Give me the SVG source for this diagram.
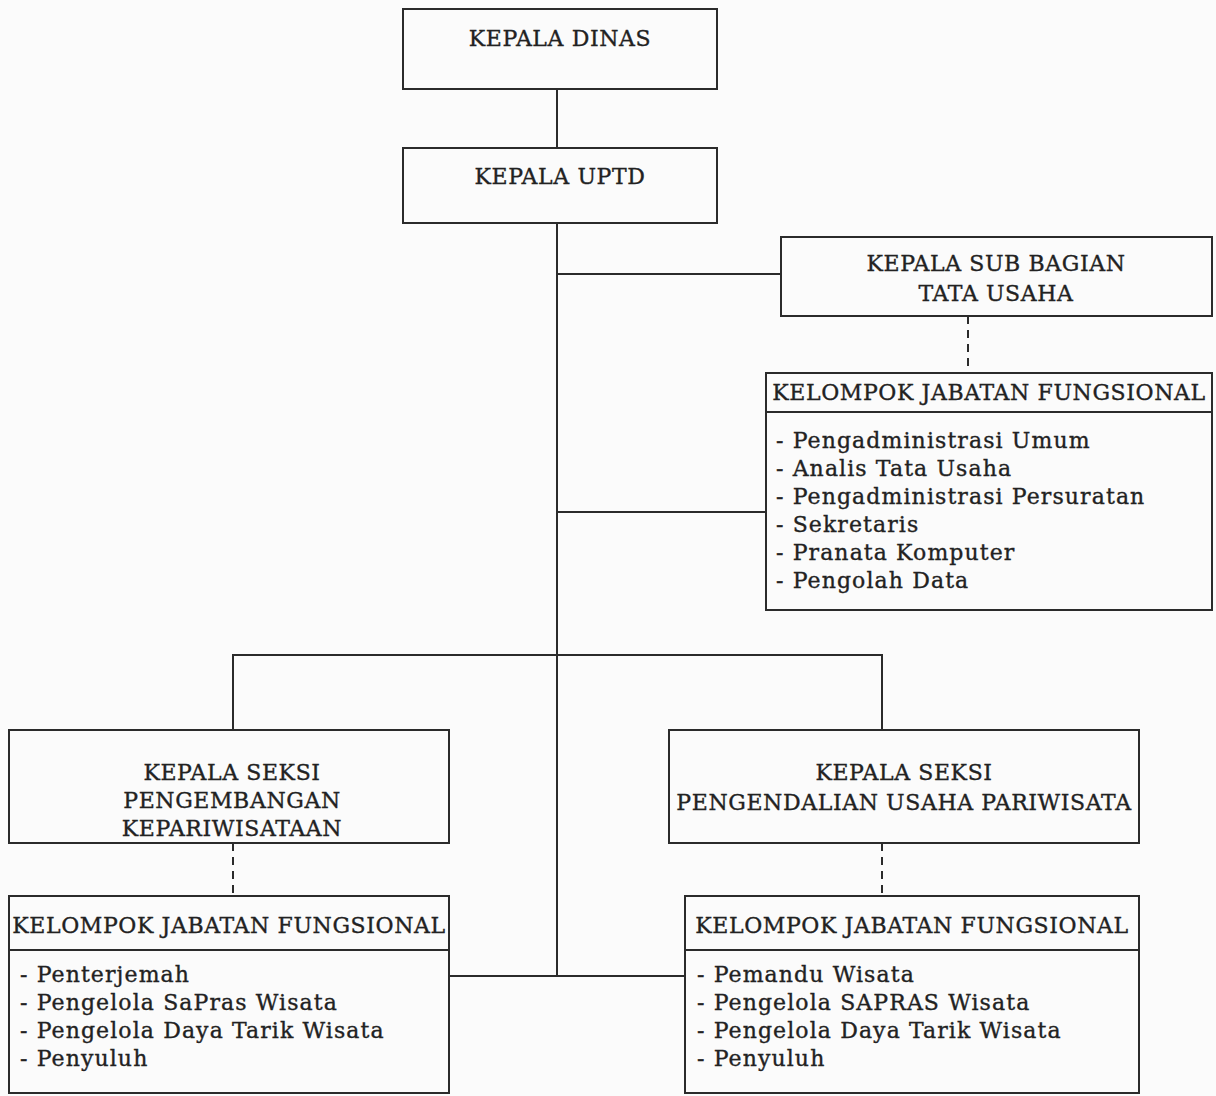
<svg xmlns="http://www.w3.org/2000/svg" width="1216" height="1096" viewBox="0 0 1216 1096">
<style>
.box{fill:none;stroke:#2b2b2b;stroke-width:2}
.ln{fill:none;stroke:#2b2b2b;stroke-width:2}
.dash{fill:none;stroke:#2b2b2b;stroke-width:2;stroke-dasharray:8,6}
text{font-family:"DejaVu Serif","Liberation Serif",serif;font-size:22px;fill:#222;stroke:#222;stroke-width:0.35;letter-spacing:0.6px}
.c{text-anchor:middle}
.it{letter-spacing:1.1px}
</style>
<rect width="1216" height="1096" fill="#fbfbfb"/>
<g id="connectors">
<line class="ln" x1="557" y1="89" x2="557" y2="148"/>
<line class="ln" x1="557" y1="223" x2="557" y2="976"/>
<line class="ln" x1="557" y1="274" x2="781" y2="274"/>
<line class="ln" x1="557" y1="512" x2="766" y2="512"/>
<polyline class="ln" points="233,730 233,655 882,655 882,730"/>
<line class="ln" x1="449" y1="976" x2="685" y2="976"/>
<line class="dash" x1="968" y1="316" x2="968" y2="373"/>
<line class="dash" x1="233" y1="843" x2="233" y2="896"/>
<line class="dash" x1="882" y1="843" x2="882" y2="896"/>
</g>
<g id="kepala-dinas">
<rect class="box" x="403" y="9" width="314" height="80"/>
<text class="c" x="560" y="46">KEPALA DINAS</text>
</g>
<g id="kepala-uptd">
<rect class="box" x="403" y="148" width="314" height="75"/>
<text class="c" x="560" y="184">KEPALA UPTD</text>
</g>
<g id="kasubag-tu">
<rect class="box" x="781" y="237" width="431" height="79"/>
<text class="c" x="996" y="271">KEPALA SUB BAGIAN</text>
<text class="c" x="996" y="301">TATA USAHA</text>
</g>
<g id="kjf-tu">
<rect class="box" x="766" y="373" width="446" height="237"/>
<line class="ln" x1="766" y1="412" x2="1212" y2="412"/>
<text class="c" x="989" y="400">KELOMPOK JABATAN FUNGSIONAL</text>
<text class="it" x="776" y="448">- Pengadministrasi Umum</text>
<text class="it" x="776" y="476">- Analis Tata Usaha</text>
<text class="it" x="776" y="504">- Pengadministrasi Persuratan</text>
<text class="it" x="776" y="532">- Sekretaris</text>
<text class="it" x="776" y="560">- Pranata Komputer</text>
<text class="it" x="776" y="588">- Pengolah Data</text>
</g>
<g id="kasi-pengembangan">
<rect class="box" x="9" y="730" width="440" height="113"/>
<text class="c" x="232" y="780">KEPALA SEKSI</text>
<text class="c" x="232" y="808">PENGEMBANGAN</text>
<text class="c" x="232" y="836">KEPARIWISATAAN</text>
</g>
<g id="kasi-pengendalian">
<rect class="box" x="669" y="730" width="470" height="113"/>
<text class="c" x="904" y="780">KEPALA SEKSI</text>
<text class="c" x="904" y="810">PENGENDALIAN USAHA PARIWISATA</text>
</g>
<g id="kjf-pengembangan">
<rect class="box" x="9" y="896" width="440" height="197"/>
<line class="ln" x1="9" y1="950" x2="449" y2="950"/>
<text class="c" x="229" y="933">KELOMPOK JABATAN FUNGSIONAL</text>
<text class="it" x="20" y="982">- Penterjemah</text>
<text class="it" x="20" y="1010">- Pengelola SaPras Wisata</text>
<text class="it" x="20" y="1038">- Pengelola Daya Tarik Wisata</text>
<text class="it" x="20" y="1066">- Penyuluh</text>
</g>
<g id="kjf-pengendalian">
<rect class="box" x="685" y="896" width="454" height="197"/>
<line class="ln" x1="685" y1="950" x2="1139" y2="950"/>
<text class="c" x="912" y="933">KELOMPOK JABATAN FUNGSIONAL</text>
<text class="it" x="697" y="982">- Pemandu Wisata</text>
<text class="it" x="697" y="1010">- Pengelola SAPRAS Wisata</text>
<text class="it" x="697" y="1038">- Pengelola Daya Tarik Wisata</text>
<text class="it" x="697" y="1066">- Penyuluh</text>
</g>
</svg>
